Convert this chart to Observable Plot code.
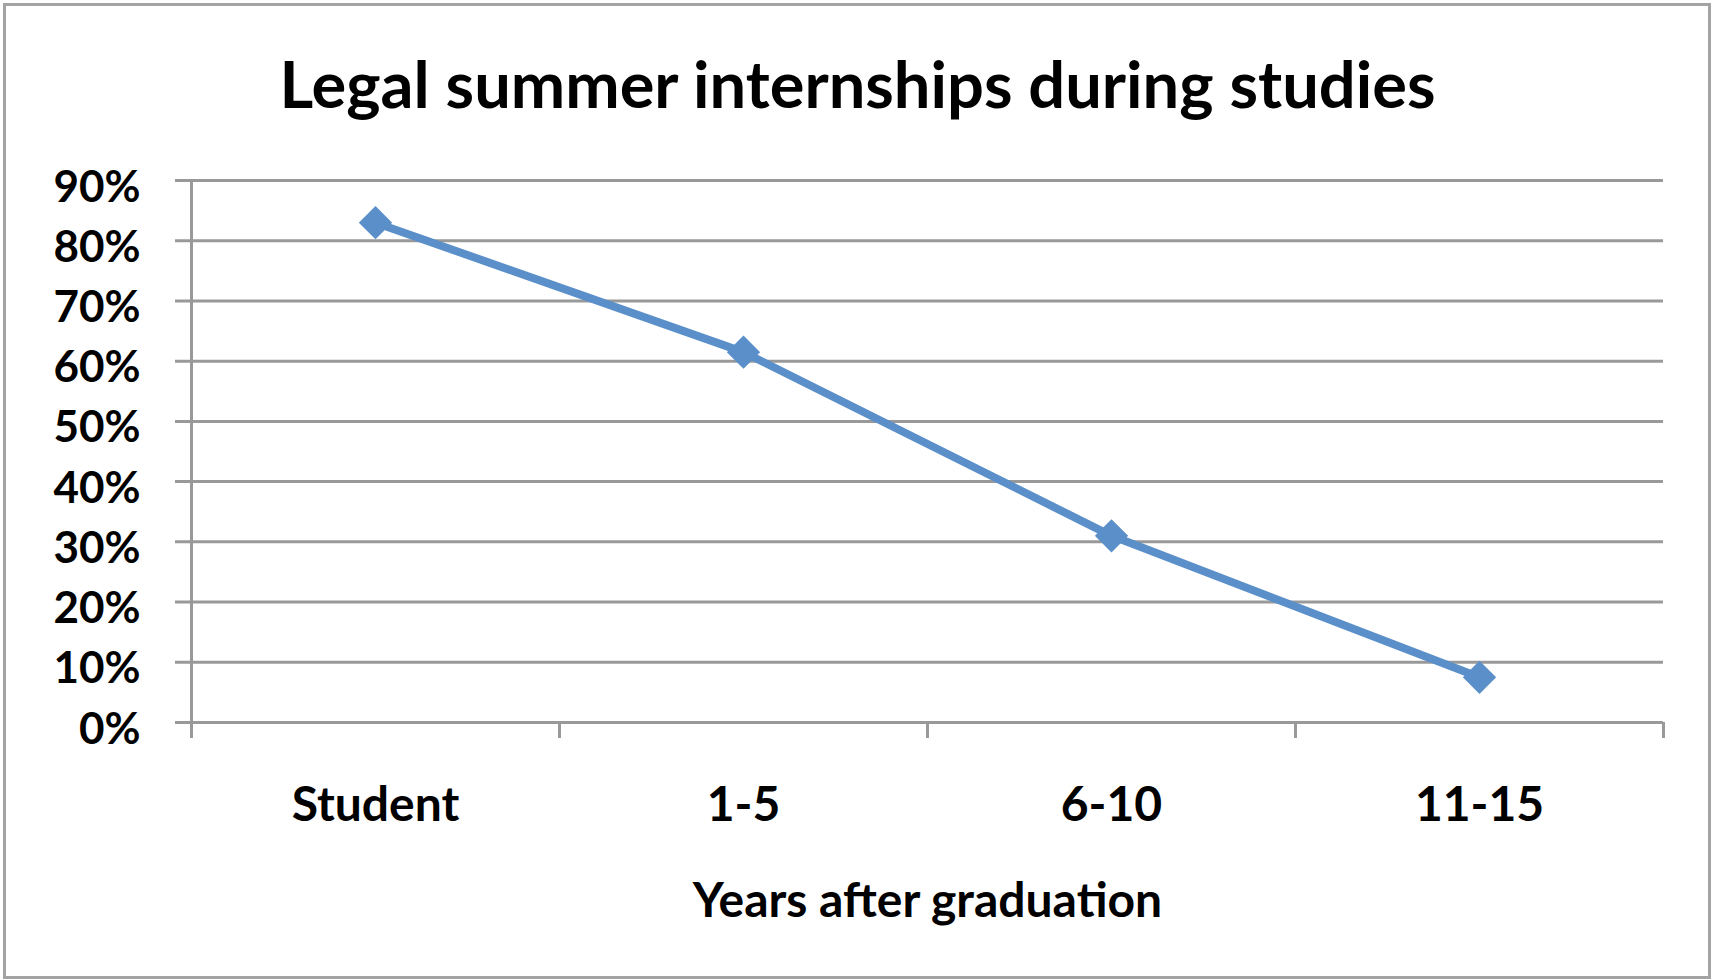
<!DOCTYPE html>
<html>
<head>
<meta charset="utf-8">
<script src="https://cdn.jsdelivr.net/npm/d3@7"></script>
<script src="https://cdn.jsdelivr.net/npm/@observablehq/plot@0.6"></script>
<style>
  html, body { margin: 0; padding: 0; background: #fff; }
  #wrap { position: relative; width: 1715px; height: 979px; overflow: hidden; font-family: Lato, "Open Sans", sans-serif; }
  #title { height: 140px; box-sizing: border-box; padding-top: 44px; text-align: center; font-size: 65px; font-weight: 700; line-height: 1.2; color: #000; white-space: nowrap; }
  #frame { position: absolute; left: 3px; top: 3px; width: 1708px; height: 976px; box-sizing: border-box; border: 3px solid #a3a3a3; pointer-events: none; }
  svg { display: block; }
</style>
</head>
<body>
<div id="wrap">
  <div id="title"></div>
  <div id="chart"></div>
  <div id="frame"></div>
</div>
<script>
const titleText = "Legal summer internships during studies";
const xTitle = "Years after graduation";
const categories = ["Student", "1-5", "6-10", "11-15"];
const shares = [0.83, 0.615, 0.31, 0.075];
const yTicks = [0, 0.1, 0.2, 0.3, 0.4, 0.5, 0.6, 0.7, 0.8, 0.9];

const data = categories.map((c, i) => ({category: c, share: shares[i]}));

document.getElementById("title").textContent = titleText;

const W = 1715, H = 839;
const mL = 191, mR = 52, mT = 40, mB = 257;
const bw = (W - mL - mR) / categories.length;
const gridColor = "#999999";
const blue = "#5B8FC9";

const chart = Plot.plot({
  width: W,
  height: H,
  marginLeft: mL,
  marginRight: mR,
  marginTop: mT,
  marginBottom: mB,
  style: {fontFamily: "Lato, 'Open Sans', sans-serif", fontSize: "44px", fontWeight: "bold", color: "#000", background: "transparent"},
  x: {type: "band", domain: categories, padding: 0},
  y: {domain: [0, 0.9]},
  marks: [
    Plot.ruleY(yTicks, {y: d => d, stroke: gridColor, strokeWidth: 3, insetLeft: -16}),
    Plot.ruleX([categories[0]], {x: d => d, dx: -bw / 2, y1: 0.9, y2: 0, insetBottom: -16, stroke: gridColor, strokeWidth: 3}),
    Plot.ruleX(categories.slice(1), {x: d => d, dx: -bw / 2, y1: 0, y2: 0, insetBottom: -16, stroke: gridColor, strokeWidth: 3}),
    Plot.ruleX([categories[categories.length - 1]], {x: d => d, dx: bw / 2, y1: 0, y2: 0, insetBottom: -16, stroke: gridColor, strokeWidth: 3}),
    Plot.axisY({ticks: yTicks, tickFormat: d3.format(".0%"), tickSize: 0, tickPadding: 51, dy: 7, label: null, fontSize: 44, fontWeight: "bold"}),
    Plot.axisX({tickSize: 0, tickPadding: 64, label: null, fontSize: 48, fontWeight: "bold"}),
    Plot.text([xTitle], {text: d => d, frameAnchor: "bottom", lineAnchor: "bottom", dy: 194, fontSize: 48, fontWeight: "bold", fill: "#000"}),
    Plot.line(data, {x: "category", y: "share", stroke: blue, strokeWidth: 8, strokeLinejoin: "round", strokeLinecap: "round"}),
    Plot.dot(data, {x: "category", y: "share", symbol: "diamond2", r: 15, fill: blue, stroke: null})
  ]
});
document.getElementById("chart").appendChild(chart);
</script>
</body>
</html>
